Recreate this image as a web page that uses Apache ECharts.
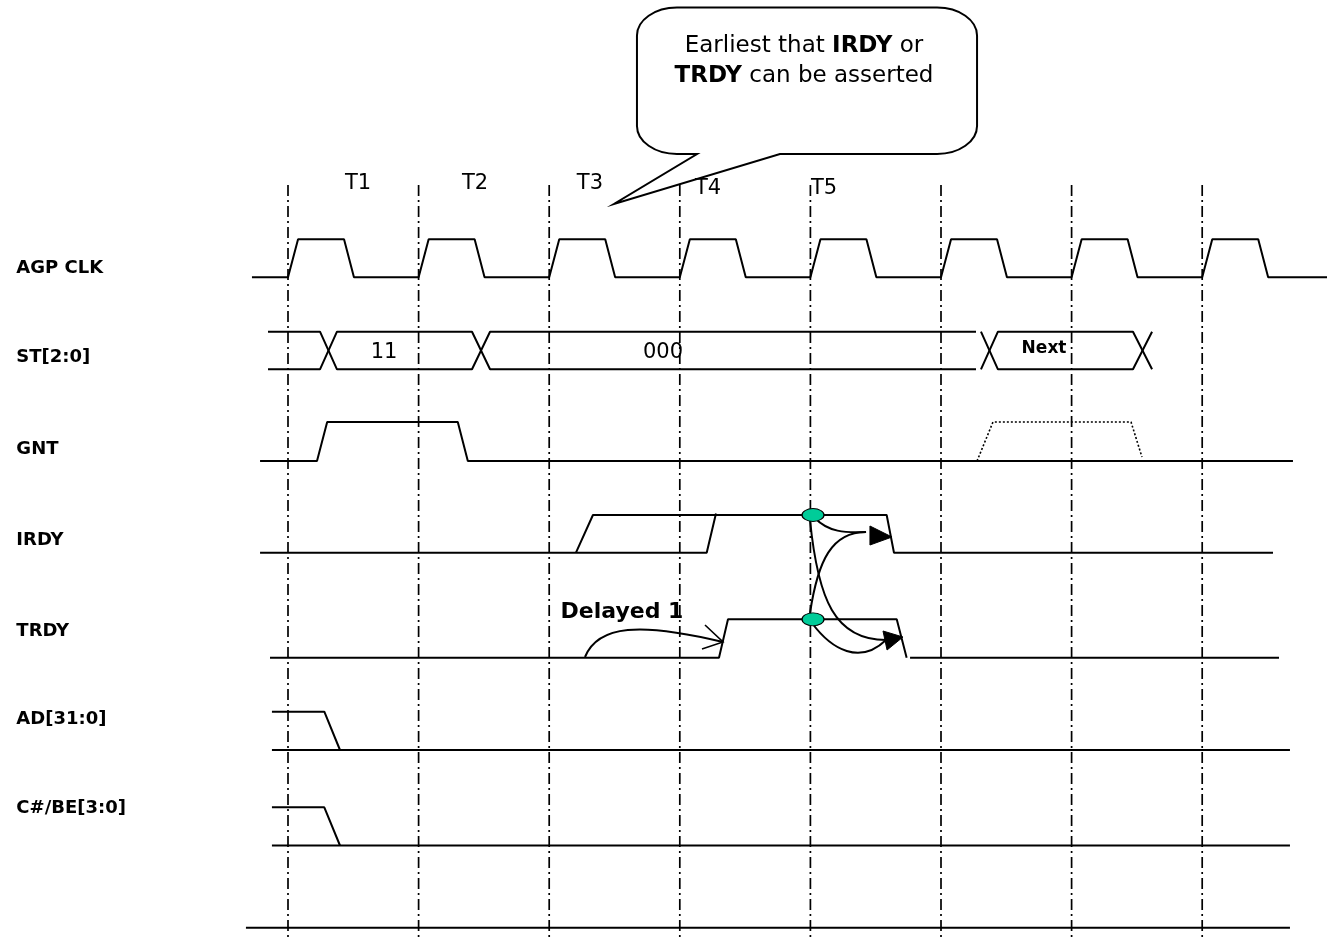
<!DOCTYPE html>
<html><head><meta charset="utf-8">
<script src="https://cdn.jsdelivr.net/npm/echarts@6/dist/echarts.min.js"></script>
<style>html,body{margin:0;padding:0;background:#fff}#c{width:1327px;height:941px}</style>
</head><body><div id="c"></div>
<script>
// ================= DATA (time in clock cycles from the T1 edge, logic level 0/1) =================
const clockEdges = [0, 1, 2, 3, 4, 5, 6, 7];
const periodLabels = ['T1', 'T2', 'T3', 'T4', 'T5'];
const periodLabelTimes = [0.536, 1.432, 2.312, 3.216, 4.104];
const signalNames = ['AGP CLK', 'ST[2:0]', 'GNT', 'IRDY', 'TRDY', 'AD[31:0]', 'C#/BE[3:0]'];

const clkWave = [[-0.276,0],[0,0],[0.077,1],[0.429,1],[0.505,0],
  [1,0],[1.077,1],[1.429,1],[1.505,0],
  [2,0],[2.077,1],[2.429,1],[2.505,0],
  [3,0],[3.077,1],[3.429,1],[3.505,0],
  [4,0],[4.077,1],[4.429,1],[4.505,0],
  [5,0],[5.077,1],[5.429,1],[5.505,0],
  [6,0],[6.077,1],[6.429,1],[6.505,0],
  [7,0],[7.077,1],[7.429,1],[7.505,0],[7.957,0]];

// ST[2:0] bus: two rails that cross at every change
const stRailA1 = [[-0.153,1],[0.245,1],[0.375,0],[1.409,0],[1.547,1],[5.268,1]];
const stRailA2 = [[5.306,1],[5.436,0],[6.47,0],[6.616,1]];
const stRailB1 = [[-0.153,0],[0.245,0],[0.375,1],[1.409,1],[1.547,0],[5.268,0]];
const stRailB2 = [[5.306,0],[5.436,1],[6.47,1],[6.616,0]];
const stValues = ['11', '000', 'Next'];
const stValueTimes = [0.735, 2.871, 5.789];

const gntWave = [[-0.214,0],[0.222,0],[0.3,1],[1.3,1],[1.377,0],[7.695,0]];
const gntNext = [[5.276,0],[5.398,1],[6.455,1],[6.539,0.1]];

const irdyLate = [[-0.214,0],[3.206,0],[3.277,1.04]];
const irdyEarly = [[2.205,0],[2.335,1],[4.584,1],[4.64,0],[7.542,0]];

const trdyWave = [[-0.138,0],[3.3,0],[3.369,1],[4.661,1],[4.737,0]];
const trdyTail = [[4.763,0],[7.588,0]];

const adHigh = [[-0.123,1],[0.278,1],[0.398,0]];
const adLow = [[-0.123,0],[7.672,0]];
const cbeHigh = [[-0.123,1],[0.278,1],[0.398,0]];
const cbeLow = [[-0.123,0],[7.672,0]];
const baseLine = [[-0.322,0],[7.672,0]];

// sample points (both signals asserted at T5)
const samplePoints = [[4.02, 'irdy'], [4.02, 'trdy']];

// ================= LAYOUT (vertical lane placement, annotation geometry) =================
const lanes = {
  clk: {base: 277.3, amp: 38}, st: {base: 369.3, amp: 37.6}, gnt: {base: 461, amp: 39},
  irdy: {base: 552.7, amp: 37.7}, trdy: {base: 657.7, amp: 38.4}, ad: {base: 750, amp: 38.3},
  cbe: {base: 845.5, amp: 38.2}, end: {base: 927.7, amp: 0}
};
const signalLabelT = -2.08;
const signalLabelY = [268, 357, 449, 540, 631, 719, 808];
const periodLabelY = [184, 184, 184, 189, 189];
const gridTopY = 185, gridBottomY = 941;

// bezier curves: [p0, c1, c2, p3] as [t, y]
const curves = [
  [[4.035,518],[4.135,532],[4.265,533],[4.426,532]],
  [[3.997,613],[4.058,560],[4.165,532],[4.426,532]],
  [[3.997,520],[4.058,600],[4.188,640],[4.579,640]],
  [[4.012,623],[4.165,650],[4.380,665],[4.579,640]],
  [[2.274,657],[2.374,625],[2.695,622],[3.331,642]]
];
const solidHeads = [
  [[4.456,526],[4.456,545],[4.625,537]],
  [[4.556,631],[4.587,650],[4.709,637]]
];
const openHeads = [[[3.170,649],[3.331,642],[3.193,625]]];
const delayedText = {t: 2.557, y: 612};
const callout = {l: 2.672, r: 5.276, top: 7.5, bottom: 154, rx: 0.306, ry: 28,
  tail1: 3.132, tail2: 3.767, tipT: 2.496, tipY: 204, textT: 3.951, textY: 61};

// ================= CHART =================
const FONT = 'DejaVu Sans';
const CHART_W = 1327, GRID_LEFT = 26.8, PERIOD_PX = 130.6, T_MIN = -2;
const chart = echarts.init(document.getElementById('c'));
const Y = (lane, lvl) => lanes[lane].base - lvl * lanes[lane].amp;

const series = [];
function wave(points, lane, extra) {
  series.push(Object.assign({
    type: 'line', data: points.map(p => [p[0], Y(lane, p[1])]),
    showSymbol: false, symbol: 'none', clip: false, silent: true, z: 3,
    lineStyle: {color: '#000', width: 2}
  }, extra || {}));
}
wave(clkWave, 'clk');
wave(stRailA1, 'st'); wave(stRailA2, 'st'); wave(stRailB1, 'st'); wave(stRailB2, 'st');
wave(gntWave, 'gnt');
wave(gntNext, 'gnt', {lineStyle: {color: '#000', width: 1.6, type: [2, 2]}});
wave(irdyLate, 'irdy'); wave(irdyEarly, 'irdy');
wave(trdyWave, 'trdy'); wave(trdyTail, 'trdy');
wave(adHigh, 'ad'); wave(adLow, 'ad');
wave(cbeHigh, 'cbe'); wave(cbeLow, 'cbe');
wave(baseLine, 'end');

// clock-edge dash-dot lines
series.push({
  type: 'custom', clip: false, silent: true, z: 2,
  data: clockEdges.map(t => [t, gridTopY]),
  renderItem: (params, api) => {
    const t = api.value(0);
    const a = api.coord([t, gridTopY]), b = api.coord([t, gridBottomY]);
    return {type: 'line', shape: {x1: a[0], y1: a[1], x2: b[0], y2: b[1]},
      style: {stroke: '#000', lineWidth: 1.7, lineDash: [11, 4, 2, 4]}};
  }
});

// curves
series.push({
  type: 'custom', clip: false, silent: true, z: 5,
  data: curves.map(c => c[0]),
  renderItem: (params, api) => {
    const c = curves[params.dataIndex].map(p => api.coord(p));
    return {type: 'bezierCurve', shape: {x1: c[0][0], y1: c[0][1], cpx1: c[1][0], cpy1: c[1][1],
      cpx2: c[2][0], cpy2: c[2][1], x2: c[3][0], y2: c[3][1]},
      style: {stroke: '#000', lineWidth: 2, fill: 'none'}};
  }
});
series.push({
  type: 'custom', clip: false, silent: true, z: 6,
  data: solidHeads.map(h => h[0]),
  renderItem: (params, api) => ({type: 'polygon',
    shape: {points: solidHeads[params.dataIndex].map(p => api.coord(p))},
    style: {fill: '#000', stroke: '#000', lineWidth: 1}})
});
series.push({
  type: 'custom', clip: false, silent: true, z: 6,
  data: openHeads.map(h => h[0]),
  renderItem: (params, api) => ({type: 'polyline',
    shape: {points: openHeads[params.dataIndex].map(p => api.coord(p))},
    style: {fill: 'none', stroke: '#000', lineWidth: 1.6}})
});

// callout bubble
series.push({
  type: 'custom', clip: false, silent: true, z: 8,
  data: [[callout.l, callout.top]],
  renderItem: (params, api) => {
    const c = callout;
    const tl = api.coord([c.l, c.top]), br = api.coord([c.r, c.bottom]);
    const rxp = api.coord([c.l + c.rx, c.top])[0] - tl[0];
    const ryp = api.coord([c.l, c.top + c.ry])[1] - tl[1];
    const L = tl[0], T = tl[1], R = br[0], B = br[1], k = 0.5523;
    const t1 = api.coord([c.tail1, c.bottom])[0], t2 = api.coord([c.tail2, c.bottom])[0];
    const tip = api.coord([c.tipT, c.tipY]);
    const d = `M${L+rxp},${T} L${R-rxp},${T} C${R-rxp+rxp*k},${T} ${R},${T+ryp-ryp*k} ${R},${T+ryp}` +
      ` L${R},${B-ryp} C${R},${B-ryp+ryp*k} ${R-rxp+rxp*k},${B} ${R-rxp},${B}` +
      ` L${t2},${B} L${tip[0]},${tip[1]} L${t1},${B} L${L+rxp},${B}` +
      ` C${L+rxp-rxp*k},${B} ${L},${B-ryp+ryp*k} ${L},${B-ryp} L${L},${T+ryp}` +
      ` C${L},${T+ryp-ryp*k} ${L+rxp-rxp*k},${T} ${L+rxp},${T} Z`;
    return {type: 'path', shape: {pathData: d},
      style: {fill: '#fff', stroke: '#000', lineWidth: 2}};
  }
});

// sample-point ellipses
series.push({
  type: 'scatter', clip: false, silent: true, z: 7,
  data: samplePoints.map(s => [s[0], Y(s[1], 1)]),
  symbol: 'circle', symbolSize: [22, 13],
  itemStyle: {color: '#00CC99', borderColor: '#000', borderWidth: 1, opacity: 1}
});

// text via custom series text elements
function texts(items, style, z) {
  series.push({
    type: 'custom', clip: false, silent: true, z: z || 9,
    data: items.map(it => [it.t, it.y]),
    renderItem: (params, api) => {
      const it = items[params.dataIndex];
      const p = api.coord([it.t, it.y]);
      return {type: 'text', x: p[0], y: p[1], z2: 10,
        style: Object.assign({text: it.text, fill: '#000', fontFamily: FONT,
          align: 'center', verticalAlign: 'middle'}, style, it.style || {})};
    }
  });
}
texts(signalNames.map((n, i) => ({t: signalLabelT, y: signalLabelY[i], text: n})),
  {align: 'left', fontSize: 18, fontWeight: 'bold'});
texts(periodLabels.map((n, i) => ({t: periodLabelTimes[i], y: periodLabelY[i], text: n})),
  {fontSize: 21});
texts(stValues.map((v, i) => (i === 2
    ? {t: stValueTimes[i], y: Y('st', 0.56), text: v, style: {fontWeight: 'bold', fontSize: 17}}
    : {t: stValueTimes[i], y: Y('st', 0.45), text: v})),
  {fontSize: 21});
texts([{t: delayedText.t, y: delayedText.y, text: 'Delayed 1'}],
  {fontSize: 22, fontWeight: 'bold'});
texts([{t: callout.textT, y: callout.textY,
  text: '{r|Earliest that }{b|IRDY}{r| or}\n{b|TRDY}{r| can be asserted}'}],
  {fontSize: 23, lineHeight: 30,
   rich: {r: {fontFamily: FONT, fontSize: 23, fill: '#000', lineHeight: 30},
          b: {fontFamily: FONT, fontSize: 23, fontWeight: 'bold', fill: '#000', lineHeight: 30}}}, 12);

const gridWidth = CHART_W - GRID_LEFT;
chart.setOption({
  animation: false,
  backgroundColor: '#fff',
  grid: {left: GRID_LEFT, top: 0, width: gridWidth, height: 941},
  xAxis: {type: 'value', min: T_MIN, max: T_MIN + gridWidth / PERIOD_PX, show: false},
  yAxis: {type: 'value', min: 0, max: 941, inverse: true, show: false},
  series: series
});
</script></body></html>
